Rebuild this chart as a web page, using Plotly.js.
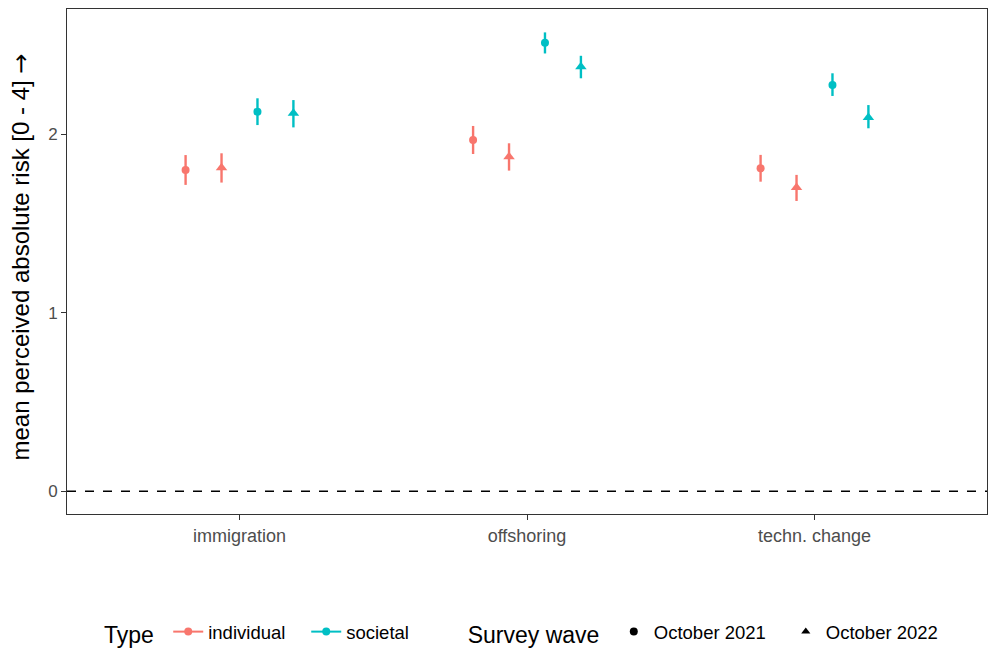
<!DOCTYPE html>
<html>
<head>
<meta charset="utf-8">
<script src="https://cdn.plot.ly/plotly-3.0.1.min.js"></script>
<style>html,body{margin:0;padding:0;background:#fff;}#chart{width:988px;height:652px;}</style>
</head>
<body>
<div id="chart"></div>
<script>
// Data
const categories = ["immigration", "offshoring", "techn. change"];
const types = ["individual", "societal"];
const waves = ["October 2021", "October 2022"];

const indiv2021_mean = [1.799, 1.966, 1.808];
const indiv2021_lo   = [1.715, 1.888, 1.733];
const indiv2021_hi   = [1.882, 2.045, 1.883];

const indiv2022_mean = [1.811, 1.873, 1.700];
const indiv2022_lo   = [1.728, 1.795, 1.625];
const indiv2022_hi   = [1.892, 1.948, 1.771];

const soc2021_mean = [2.125, 2.511, 2.274];
const soc2021_lo   = [2.050, 2.451, 2.213];
const soc2021_hi   = [2.200, 2.569, 2.340];

const soc2022_mean = [2.116, 2.377, 2.093];
const soc2022_lo   = [2.037, 2.312, 2.032];
const soc2022_hi   = [2.190, 2.438, 2.162];

const yTicks = [0, 1, 2];
const yTitle = "mean perceived absolute risk [0 - 4] ";

// Styling
const typeColors = {individual: "#F8766D", societal: "#00BFC4"};
const waveSymbols = {"October 2021": "circle", "October 2022": "triangle-up"};
const dodge = [-0.1875, -0.0625, 0.0625, 0.1875];

const groups = [
  {type: "individual", wave: "October 2021", mean: indiv2021_mean, lo: indiv2021_lo, hi: indiv2021_hi},
  {type: "individual", wave: "October 2022", mean: indiv2022_mean, lo: indiv2022_lo, hi: indiv2022_hi},
  {type: "societal", wave: "October 2021", mean: soc2021_mean, lo: soc2021_lo, hi: soc2021_hi},
  {type: "societal", wave: "October 2022", mean: soc2022_mean, lo: soc2022_lo, hi: soc2022_hi}
];

const traces = [];
groups.forEach((g, gi) => {
  const col = typeColors[g.type];
  traces.push({
    type: "scatter", mode: "markers",
    x: categories.map((c, i) => i + dodge[gi]),
    y: g.mean,
    text: categories,
    marker: {color: col, symbol: waveSymbols[g.wave], size: g.wave === "October 2021" ? 8 : 10},
    error_y: {
      type: "data", symmetric: false,
      array: g.hi.map((v, i) => v - g.mean[i]),
      arrayminus: g.mean.map((v, i) => v - g.lo[i]),
      color: col, thickness: 2.4, width: 0
    },
    showlegend: false, hoverinfo: "text+y"
  });
});

// legend dummies: Type
types.forEach(t => {
  traces.push({
    type: "scatter", mode: "lines+markers", x: [null], y: [null],
    name: t, line: {color: typeColors[t], width: 2}, marker: {color: typeColors[t], size: 8, symbol: "circle"},
    legend: "legend", showlegend: true
  });
});
// legend dummies: Survey wave
waves.forEach(w => {
  traces.push({
    type: "scatter", mode: "markers", x: [null], y: [null],
    name: w, marker: {color: "#000", size: 8, symbol: waveSymbols[w]},
    legend: "legend2", showlegend: true
  });
});

const font = "Liberation Sans, Arial, sans-serif";

const layout = {
  width: 988, height: 652,
  margin: {l: 67, r: 1, t: 9, b: 138},
  paper_bgcolor: "#fff", plot_bgcolor: "#fff",
  font: {family: font, color: "#000"},
  xaxis: {
    range: [-0.6, 2.6],
    tickvals: categories.map((c, i) => i),
    ticktext: categories,
    showgrid: false, zeroline: false,
    showline: true, mirror: true, linecolor: "#333", linewidth: 1,
    ticks: "outside", ticklen: 5, tickcolor: "#333", tickwidth: 1,
    tickfont: {size: 18, color: "#4D4D4D", family: font}
  },
  yaxis: {
    range: [-0.128, 2.7],
    tickvals: yTicks,
    showgrid: false, zeroline: false,
    showline: true, mirror: true, linecolor: "#333", linewidth: 1,
    ticks: "outside", ticklen: 5, tickcolor: "#333", tickwidth: 1,
    tickfont: {size: 17, color: "#4D4D4D", family: font}
  },
  annotations: [{
    text: yTitle + "<span style=\"font-family:DejaVu Sans\">→</span>",
    xref: "paper", yref: "paper", x: 0, y: 0.5, xanchor: "center", yanchor: "middle",
    xshift: -47, yshift: 4, textangle: -90, showarrow: false,
    font: {size: 24, color: "#000", family: font}
  }],
  shapes: [{
    type: "line", xref: "paper", x0: 0, x1: 1, yref: "y", y0: 0, y1: 0,
    line: {color: "#000", width: 1.5, dash: "dash"}
  }],
  legend: {
    orientation: "h", x: 0.038, xanchor: "left", yref: "container", y: 0.029, yanchor: "middle",
    title: {text: "Type ", font: {size: 23, family: font}, side: "left"},
    font: {size: 18.5, family: font}, bgcolor: "rgba(0,0,0,0)",
    itemwidth: 30, entrywidth: 93, entrywidthmode: "pixels"
  },
  legend2: {
    orientation: "h", x: 0.4334, xanchor: "left", yref: "container", y: 0.029, yanchor: "middle",
    title: {text: "Survey wave ", font: {size: 23, family: font}, side: "left"},
    font: {size: 18.5, family: font}, bgcolor: "rgba(0,0,0,0)",
    itemwidth: 30, entrywidth: 127, entrywidthmode: "pixels"
  },
  showlegend: true
};

Plotly.newPlot("chart", traces, layout, {displayModeBar: false, staticPlot: true});
</script>
</body>
</html>
